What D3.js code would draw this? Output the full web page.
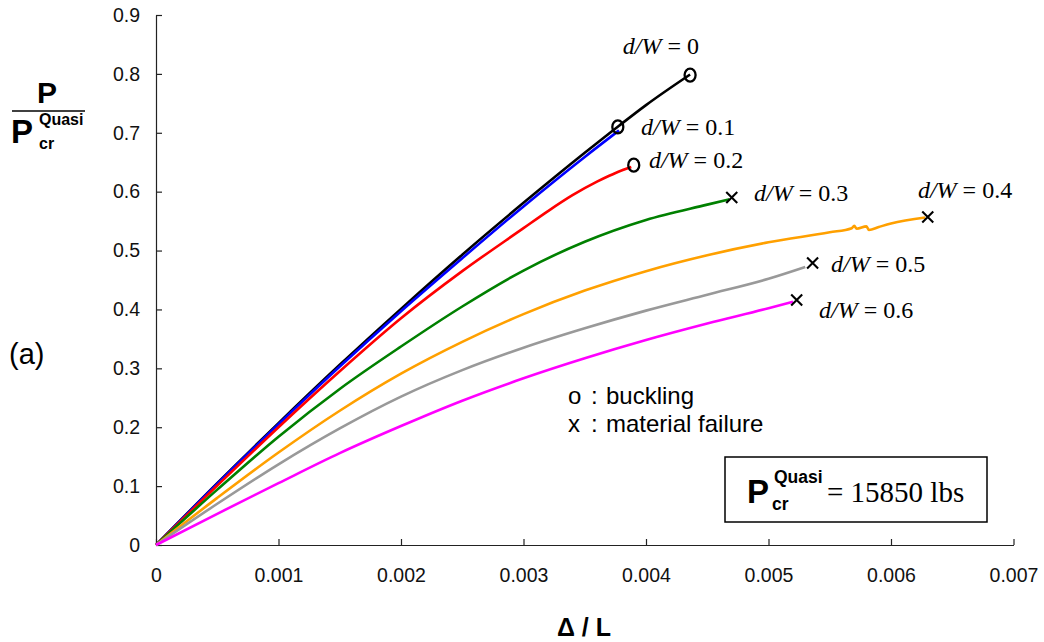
<!DOCTYPE html>
<html>
<head>
<meta charset="utf-8">
<script src="https://cdn.jsdelivr.net/npm/d3@7"></script>
<style>
  html, body { margin: 0; padding: 0; background: #fff; }
  svg { display: block; }
  .tick text { font-family: Arial, "Liberation Sans", sans-serif; font-size: 19.5px; fill: #111; }
</style>
</head>
<body>
<svg id="chart" width="1044" height="642"></svg>
<script>
// Axis ticks
const xTicks = [0, 0.001, 0.002, 0.003, 0.004, 0.005, 0.006, 0.007];
const yTicks = [0, 0.1, 0.2, 0.3, 0.4, 0.5, 0.6, 0.7, 0.8, 0.9];

// Normalised load P / Pcr vs. end shortening Δ/L for each hole ratio d/W
const ratios = ["0", "0.1", "0.2", "0.3", "0.4", "0.5", "0.6"];
const colors = ["#000000", "#0000ff", "#ff0000", "#008000", "#ffa000", "#999999", "#ff00ff"];
const failure = ["o", "o", "o", "x", "x", "x", "x"];

const strain_0 = [0, 0.0005, 0.001, 0.0015, 0.002, 0.0025, 0.003, 0.0035, 0.00378, 0.004, 0.00436];
const load_0   = [0, 0.105, 0.207, 0.306, 0.401, 0.493, 0.581, 0.666, 0.712, 0.747, 0.799];

const strain_1 = [0, 0.0005, 0.001, 0.0015, 0.002, 0.0025, 0.003, 0.0035, 0.00378];
const load_1   = [0, 0.104, 0.205, 0.303, 0.397, 0.487, 0.575, 0.659, 0.704];

const strain_2 = [0, 0.0005, 0.001, 0.0015, 0.002, 0.0025, 0.003, 0.0032, 0.0034, 0.0036, 0.0037, 0.0038, 0.00388];
const load_2   = [0, 0.101, 0.2, 0.295, 0.385, 0.465, 0.538, 0.567, 0.594, 0.617, 0.627, 0.636, 0.642];

const strain_3 = [0, 0.0005, 0.001, 0.0015, 0.002, 0.0025, 0.003, 0.0035, 0.004, 0.0045, 0.00468];
const load_3   = [0, 0.094, 0.184, 0.265, 0.337, 0.405, 0.466, 0.515, 0.552, 0.578, 0.587];

const strain_4 = [0, 0.0005, 0.001, 0.0015, 0.002, 0.0025, 0.003, 0.0035, 0.004, 0.0045, 0.005, 0.0055, 0.00568, 0.0057, 0.00572, 0.0058, 0.00582, 0.0059, 0.006, 0.00628];
const load_4   = [0, 0.08, 0.157, 0.228, 0.291, 0.345, 0.392, 0.432, 0.465, 0.492, 0.514, 0.531, 0.538, 0.542, 0.537, 0.541, 0.535, 0.54, 0.546, 0.556];

const strain_5 = [0, 0.0005, 0.001, 0.0015, 0.002, 0.0025, 0.003, 0.0035, 0.004, 0.0045, 0.005, 0.0053];
const load_5   = [0, 0.07, 0.137, 0.198, 0.252, 0.297, 0.335, 0.368, 0.398, 0.425, 0.452, 0.472];

const strain_6 = [0, 0.0005, 0.001, 0.0015, 0.002, 0.0025, 0.003, 0.0035, 0.004, 0.0045, 0.005, 0.0052];
const load_6   = [0, 0.053, 0.105, 0.156, 0.202, 0.245, 0.283, 0.317, 0.348, 0.376, 0.402, 0.413];

// End-point markers (buckling / material failure)
const markerX = [0.00436, 0.00377, 0.0039, 0.0047, 0.0063, 0.00536, 0.00523];
const markerY = [0.798, 0.71, 0.645, 0.59, 0.557, 0.479, 0.416];

// Curve labels: left/baseline anchor in data units
const labelX = [0.00381, 0.00396, 0.004024, 0.004882, 0.00622, 0.00551, 0.005412];
const labelY = [0.834, 0.696, 0.640, 0.584, 0.589, 0.4636, 0.3855];

const strains = [strain_0, strain_1, strain_2, strain_3, strain_4, strain_5, strain_6];
const loads = [load_0, load_1, load_2, load_3, load_4, load_5, load_6];

const svg = d3.select("#chart");
const m = { left: 156, right: 1013.5, top: 15, bottom: 545 };

const x = d3.scaleLinear().domain([0, 0.007]).range([m.left, m.right]);
const y = d3.scaleLinear().domain([0, 0.9]).range([m.bottom, m.top]);

// Axes with inward ticks
const xAxis = svg.append("g")
  .attr("transform", `translate(0,${m.bottom})`)
  .call(d3.axisBottom(x).tickValues(xTicks).tickSizeInner(-6).tickSizeOuter(0)
    .tickPadding(23).tickFormat(d => d === 0 ? "0" : d3.format(".3f")(d)));
const yAxis = svg.append("g")
  .attr("transform", `translate(${m.left},0)`)
  .call(d3.axisLeft(y).tickValues(yTicks).tickSizeInner(-6).tickSizeOuter(0)
    .tickPadding(16).tickFormat(d => d === 0 ? "0" : d3.format(".1f")(d)));
[xAxis, yAxis].forEach(g => {
  g.select(".domain").attr("stroke", "#222").attr("stroke-width", 1.2);
  g.selectAll(".tick line").attr("stroke", "#222").attr("stroke-width", 1.2);
});

// Curves
const line = d3.line().x(d => x(d[0])).y(d => y(d[1])).curve(d3.curveMonotoneX);
ratios.forEach((r, i) => {
  const pts = strains[i].map((s, k) => [s, loads[i][k]]);
  svg.append("path")
    .datum(pts)
    .attr("d", line)
    .attr("fill", "none")
    .attr("stroke", colors[i])
    .attr("stroke-width", 2.6)
    .attr("stroke-linejoin", "round");
});

// Markers
ratios.forEach((r, i) => {
  const cx = x(markerX[i]), cy = y(markerY[i]);
  if (failure[i] === "o") {
    svg.append("ellipse").attr("cx", cx).attr("cy", cy).attr("rx", 5.5).attr("ry", 6.5)
      .attr("fill", "none").attr("stroke", "#000").attr("stroke-width", 2.3);
  } else {
    const s = 5.5;
    svg.append("path")
      .attr("d", `M${cx - s},${cy - s}L${cx + s},${cy + s}M${cx - s},${cy + s}L${cx + s},${cy - s}`)
      .attr("stroke", "#000").attr("stroke-width", 2.1);
  }
});

// Curve labels "d/W = ..."
const serif = "'Liberation Serif', 'Times New Roman', serif";
ratios.forEach((r, i) => {
  const t = svg.append("text")
    .attr("x", x(labelX[i])).attr("y", y(labelY[i]))
    .attr("font-family", serif)
    .attr("font-size", 24).attr("fill", "#000");
  t.append("tspan").attr("font-style", "italic").text("d/W");
  t.append("tspan").text(" = " + r);
});

// Marker key
const sans = "Arial, 'Liberation Sans', sans-serif";
const keyRows = [["o", "buckling", 404], ["x", "material failure", 432]];
keyRows.forEach(([sym, label, yy]) => {
  svg.append("text").attr("x", 568).attr("y", yy).attr("font-family", sans).attr("font-size", 24).text(sym);
  svg.append("text").attr("x", 591).attr("y", yy).attr("font-family", sans).attr("font-size", 24).text(":");
  svg.append("text").attr("x", 606).attr("y", yy).attr("font-family", sans).attr("font-size", 24).text(label);
});

// Reference load box
svg.append("rect").attr("x", 725).attr("y", 457).attr("width", 262).attr("height", 65)
  .attr("fill", "#fff").attr("stroke", "#000").attr("stroke-width", 1.5);
svg.append("text").attr("x", 747).attr("y", 503).attr("font-family", sans)
  .attr("font-weight", "bold").attr("font-size", 33).text("P");
svg.append("text").attr("x", 774).attr("y", 483).attr("font-family", sans)
  .attr("font-weight", "bold").attr("font-size", 17.5).text("Quasi");
svg.append("text").attr("x", 772).attr("y", 510).attr("font-family", sans)
  .attr("font-weight", "bold").attr("font-size", 17.5).text("cr");
svg.append("text").attr("x", 827).attr("y", 502)
  .attr("font-family", serif)
  .attr("font-size", 29).text("= 15850 lbs");

// Y-axis label as a fraction
svg.append("text").attr("x", 47).attr("y", 103).attr("text-anchor", "middle")
  .attr("font-family", sans).attr("font-weight", "bold").attr("font-size", 30).text("P");
svg.append("line").attr("x1", 12).attr("x2", 85).attr("y1", 111).attr("y2", 111)
  .attr("stroke", "#000").attr("stroke-width", 1.5);
svg.append("text").attr("x", 11).attr("y", 143).attr("font-family", sans)
  .attr("font-weight", "bold").attr("font-size", 33).text("P");
svg.append("text").attr("x", 39).attr("y", 125).attr("font-family", sans)
  .attr("font-weight", "bold").attr("font-size", 16).text("Quasi");
svg.append("text").attr("x", 39).attr("y", 149).attr("font-family", sans)
  .attr("font-weight", "bold").attr("font-size", 16).text("cr");

// Panel tag
svg.append("text").attr("x", 9).attr("y", 364).attr("font-family", sans)
  .attr("font-size", 29).text("(a)");

// X-axis title
svg.append("text").attr("x", 584).attr("y", 636).attr("text-anchor", "middle")
  .attr("font-family", sans).attr("font-weight", "bold").attr("font-size", 25).text("Δ / L");
</script>
</body>
</html>
